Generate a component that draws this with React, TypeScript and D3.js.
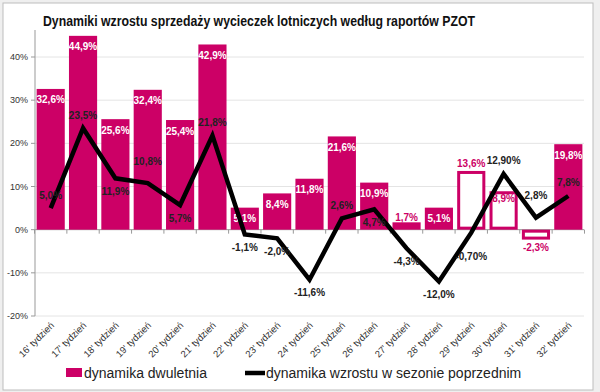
import * as d3 from 'd3';
import React from 'react';

const weeks = ["16' tydzień", "17' tydzień", "18' tydzień", "19' tydzień", "20' tydzień", "21' tydzień", "22' tydzień", "23' tydzień", "24' tydzień", "25' tydzień", "26' tydzień", "27' tydzień", "28' tydzień", "29' tydzień", "30' tydzień", "31' tydzień", "32' tydzień"];
// dynamika dwuletnia (bars)
const twoYear = [32.6, 44.9, 25.6, 32.4, 25.4, 42.9, 5.1, 8.4, 11.8, 21.6, 10.9, 1.7, 5.1, 13.6, 8.9, -2.3, 19.8];
const twoYearLabels = ['32,6%', '44,9%', '25,6%', '32,4%', '25,4%', '42,9%', '5,1%', '8,4%', '11,8%', '21,6%', '10,9%', '1,7%', '5,1%', '13,6%', '8,9%', '-2,3%', '19,8%'];
// last three weeks drawn as outlined bars
const hollow = [false, false, false, false, false, false, false, false, false, false, false, false, false, true, true, true, false];
// dynamika wzrostu w sezonie poprzednim (line)
const prevSeason = [5.0, 23.5, 11.9, 10.8, 5.7, 21.8, -1.1, -2.0, -11.6, 2.6, 4.7, -4.3, -12.0, -0.7, 12.9, 2.8, 7.8];
const prevSeasonLabels = ['5,0%', '23,5%', '11,9%', '10,8%', '5,7%', '21,8%', '-1,1%', '-2,0%', '-11,6%', '2,6%', '4,7%', '-4,3%', '-12,0%', '-0,70%', '12,90%', '2,8%', '7,8%'];
const lineLabelSide = ['up', 'up', 'down', 'up2', 'down', 'up', 'down', 'down', 'down', 'up', 'down', 'down', 'down', 'down2', 'up', 'up2', 'up'];
const yTicks = [-20, -10, 0, 10, 20, 30, 40];

const MAGENTA = '#cc0066';
const FONT = '"Liberation Sans", Arial, sans-serif';
const sideOffset: Record<string, number> = { up: -13, up2: -22, down: 13, down2: 24 };

export default function App() {
  const width = 600;
  const height = 392;
  const margin = { top: 30, left: 35, right: 16, bottom: 76 };

  const x = d3.scaleBand<string>()
    .domain(weeks)
    .range([margin.left, width - margin.right])
    .paddingInner(0.13)
    .paddingOuter(0.05);
  const y = d3.scaleLinear().domain([-20, 40]).range([316, 57]);
  const step = x.step();
  const cx = (i: number) => (x(weeks[i]) as number) + x.bandwidth() / 2;

  const line = d3.line<number>()
    .x((d, i) => cx(i))
    .y(d => y(d));

  return (
    <svg width={width} height={height} style={{ display: 'block', position: 'absolute', left: 0, top: 0 }} fontFamily={FONT}>
      <rect x={0} y={0} width={width} height={height} fill="#efefef" />
      <rect x={3} y={3} width={590} height={387} fill="#fff" stroke="#bdbdbd" />

      <text x={259} y={26} textAnchor="middle" fontWeight="bold" fontSize={14.5} textLength={432} lengthAdjust="spacingAndGlyphs" fill="#111">
        Dynamiki wzrostu sprzedaży wycieczek lotniczych według raportów PZOT
      </text>

      {/* gridlines */}
      {yTicks.map(t => (
        <line key={t} x1={margin.left} x2={width - margin.right} y1={y(t)} y2={y(t)} stroke={t === 0 ? '#999' : '#e4e4e4'} />
      ))}
      {/* y axis */}
      <line x1={margin.left} x2={margin.left} y1={margin.top} y2={y(-20)} stroke="#999" />
      {yTicks.map(t => (
        <g key={'t' + t}>
          <line x1={margin.left - 4} x2={margin.left} y1={y(t)} y2={y(t)} stroke="#999" />
          <text x={margin.left - 7} y={y(t)} dy="0.35em" textAnchor="end" fontSize={9} fill="#333">{t + '%'}</text>
        </g>
      ))}
      {/* category ticks on zero line */}
      {d3.range(weeks.length + 1).map(i => {
        const tx = margin.left + x.paddingOuter() * step + i * step - (x.paddingInner() * step) / 2;
        return <line key={'c' + i} x1={tx} x2={tx} y1={y(0)} y2={y(0) + 4} stroke="#999" />;
      })}

      {/* bars */}
      {twoYear.map((v, i) => {
        const top = y(Math.max(0, v));
        const h = Math.abs(y(v) - y(0));
        const bx = x(weeks[i]) as number;
        return hollow[i] ? (
          <rect key={'b' + i} x={bx + 1.5} y={top + 1.5} width={x.bandwidth() - 3} height={Math.max(0, h - 3)} fill="#fff" stroke={MAGENTA} strokeWidth={3} />
        ) : (
          <rect key={'b' + i} x={bx} y={top} width={x.bandwidth()} height={h} fill={MAGENTA} />
        );
      })}

      {/* bar labels */}
      {twoYear.map((v, i) => {
        let ly = y(v) + 11;
        let color = '#fff';
        if (v < 0) { ly = y(v) + 8; color = MAGENTA; }
        else if (v < 4) { ly = y(v) - 5; color = MAGENTA; }
        else if (hollow[i] && v > 10) { ly = y(v) - 7; color = MAGENTA; }
        else if (hollow[i]) { color = MAGENTA; ly = y(v) + 7; }
        return (
          <text key={'bl' + i} x={cx(i)} y={ly} dy="0.35em" textAnchor="middle" fontSize={10} fontWeight="bold" fill={color}>
            {twoYearLabels[i]}
          </text>
        );
      })}

      {/* line */}
      <path d={line(prevSeason) || ''} fill="none" stroke="#000" strokeWidth={4.5} strokeLinejoin="miter" />
      {prevSeason.map((v, i) => (
        <text key={'ll' + i} x={cx(i)} y={y(v) + sideOffset[lineLabelSide[i]]} dy="0.35em" textAnchor="middle" fontSize={10} fontWeight="bold" fill="#222">
          {prevSeasonLabels[i]}
        </text>
      ))}

      {/* x labels */}
      {weeks.map((w, i) => (
        <text key={'x' + i} transform={`translate(${cx(i) + 4},${326}) rotate(-45)`} textAnchor="end" fontSize={9.5} fill="#333">{w}</text>
      ))}

      {/* legend */}
      <rect x={66} y={368} width={16} height={9} fill={MAGENTA} />
      <text x={84} y={378} fontSize={14} fill="#222">dynamika dwuletnia</text>
      <line x1={245} x2={265} y1={373} y2={373} stroke="#000" strokeWidth={4.5} />
      <text x={266} y={378} fontSize={14} fill="#222">dynamika wzrostu w sezonie poprzednim</text>
    </svg>
  );
}
